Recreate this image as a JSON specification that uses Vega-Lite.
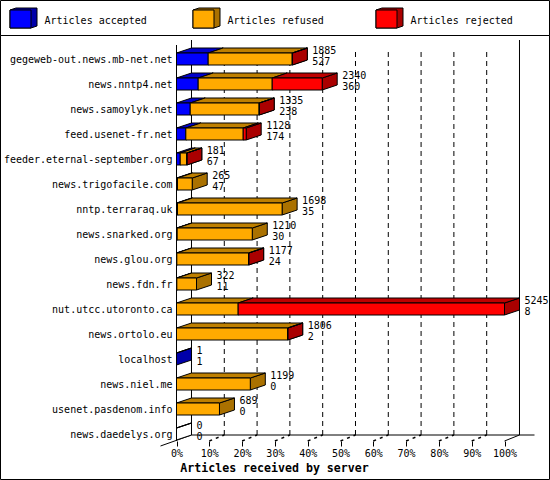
{
  "$schema": "https://vega.github.io/schema/vega-lite/v6.json",
  "padding": {"left": -1, "top": -1, "right": 0, "bottom": 0},
  "background": "white",
  "spacing": 0,
  "bounds": "flush",
  "config": {
    "font": "DejaVu Sans Mono",
    "view": {"stroke": "black", "strokeWidth": 1}
  },
  "datasets": {
    "statuses": [
      {"status": "accepted", "label": "Articles accepted"},
      {"status": "refused", "label": "Articles refused"},
      {"status": "rejected", "label": "Articles rejected"}
    ],
    "segments": [
      {"server": "gegeweb-out.news.mb-net.net", "status": "accepted", "pos": [0, 9.66, 14.23, 4.57, 0], "depth": [0, 0, 1, 1, 0]},
      {"server": "gegeweb-out.news.mb-net.net", "status": "refused", "pos": [9.66, 35.3, 39.87, 14.23, 9.66], "depth": [0, 0, 1, 1, 0]},
      {"server": "gegeweb-out.news.mb-net.net", "status": "rejected", "pos": [35.3, 35.3, 39.87, 39.87, 35.3], "depth": [0, 0, 1, 1, 0]},
      {"server": "news.nntp4.net", "status": "accepted", "pos": [0, 6.61, 11.18, 4.57, 0], "depth": [0, 0, 1, 1, 0]},
      {"server": "news.nntp4.net", "status": "refused", "pos": [6.61, 29.18, 33.75, 11.18, 6.61], "depth": [0, 0, 1, 1, 0]},
      {"server": "news.nntp4.net", "status": "rejected", "pos": [29.18, 44.42, 48.99, 33.75, 29.18], "depth": [0, 0, 1, 1, 0]},
      {"server": "news.samoylyk.net", "status": "accepted", "pos": [0, 4.18, 8.75, 4.57, 0], "depth": [0, 0, 1, 1, 0]},
      {"server": "news.samoylyk.net", "status": "refused", "pos": [4.18, 25.21, 29.78, 8.75, 4.18], "depth": [0, 0, 1, 1, 0]},
      {"server": "news.samoylyk.net", "status": "rejected", "pos": [25.21, 25.21, 29.78, 29.78, 25.21], "depth": [0, 0, 1, 1, 0]},
      {"server": "feed.usenet-fr.net", "status": "accepted", "pos": [0, 2.84, 7.41, 4.57, 0], "depth": [0, 0, 1, 1, 0]},
      {"server": "feed.usenet-fr.net", "status": "refused", "pos": [2.84, 20.34, 24.91, 7.41, 2.84], "depth": [0, 0, 1, 1, 0]},
      {"server": "feed.usenet-fr.net", "status": "rejected", "pos": [20.34, 21.25, 25.82, 24.91, 20.34], "depth": [0, 0, 1, 1, 0]},
      {"server": "feeder.eternal-september.org", "status": "accepted", "pos": [0, 1.13, 5.7, 4.57, 0], "depth": [0, 0, 1, 1, 0]},
      {"server": "feeder.eternal-september.org", "status": "refused", "pos": [1.13, 3.14, 7.71, 5.7, 1.13], "depth": [0, 0, 1, 1, 0]},
      {"server": "feeder.eternal-september.org", "status": "rejected", "pos": [3.14, 3.14, 7.71, 7.71, 3.14], "depth": [0, 0, 1, 1, 0]},
      {"server": "news.trigofacile.com", "status": "accepted", "pos": [0, 0.3, 4.87, 4.57, 0], "depth": [0, 0, 1, 1, 0]},
      {"server": "news.trigofacile.com", "status": "refused", "pos": [0.3, 4.79, 9.36, 4.87, 0.3], "depth": [0, 0, 1, 1, 0]},
      {"server": "nntp.terraraq.uk", "status": "accepted", "pos": [0, 0.3, 4.87, 4.57, 0], "depth": [0, 0, 1, 1, 0]},
      {"server": "nntp.terraraq.uk", "status": "refused", "pos": [0.3, 32.2, 36.77, 4.87, 0.3], "depth": [0, 0, 1, 1, 0]},
      {"server": "news.snarked.org", "status": "accepted", "pos": [0, 0.2, 4.77, 4.57, 0], "depth": [0, 0, 1, 1, 0]},
      {"server": "news.snarked.org", "status": "refused", "pos": [0.2, 23.1, 27.67, 4.77, 0.2], "depth": [0, 0, 1, 1, 0]},
      {"server": "news.glou.org", "status": "accepted", "pos": [0, 0.1, 4.67, 4.57, 0], "depth": [0, 0, 1, 1, 0]},
      {"server": "news.glou.org", "status": "refused", "pos": [0.1, 22, 26.57, 4.67, 0.1], "depth": [0, 0, 1, 1, 0]},
      {"server": "news.glou.org", "status": "rejected", "pos": [22, 22, 26.57, 26.57, 22], "depth": [0, 0, 1, 1, 0]},
      {"server": "news.fdn.fr", "status": "accepted", "pos": [0, 0.1, 4.67, 4.57, 0], "depth": [0, 0, 1, 1, 0]},
      {"server": "news.fdn.fr", "status": "refused", "pos": [0.1, 6.1, 10.67, 4.67, 0.1], "depth": [0, 0, 1, 1, 0]},
      {"server": "nut.utcc.utoronto.ca", "status": "refused", "pos": [0, 18.8, 23.37, 4.57, 0], "depth": [0, 0, 1, 1, 0]},
      {"server": "nut.utcc.utoronto.ca", "status": "rejected", "pos": [18.8, 100, 104.57, 23.37, 18.8], "depth": [0, 0, 1, 1, 0]},
      {"server": "news.ortolo.eu", "status": "refused", "pos": [0, 33.9, 38.47, 4.57, 0], "depth": [0, 0, 1, 1, 0]},
      {"server": "news.ortolo.eu", "status": "rejected", "pos": [33.9, 33.9, 38.47, 38.47, 33.9], "depth": [0, 0, 1, 1, 0]},
      {"server": "localhost", "status": "accepted", "pos": [0, 0, 4.57, 4.57, 0], "depth": [0, 0, 1, 1, 0]},
      {"server": "news.niel.me", "status": "refused", "pos": [0, 22.5, 27.07, 4.57, 0], "depth": [0, 0, 1, 1, 0]},
      {"server": "usenet.pasdenom.info", "status": "refused", "pos": [0, 13.1, 17.67, 4.57, 0], "depth": [0, 0, 1, 1, 0]},
      {"server": "news.daedelys.org", "status": "none", "pos": [0, 0, 4.57, 4.57, 0], "depth": [0, 0, 1, 1, 0]}
    ],
    "totals": [
      {"server": "gegeweb-out.news.mb-net.net", "received": 1885, "second": 527, "end": 35.3},
      {"server": "news.nntp4.net", "received": 2340, "second": 360, "end": 44.42},
      {"server": "news.samoylyk.net", "received": 1335, "second": 238, "end": 25.21},
      {"server": "feed.usenet-fr.net", "received": 1128, "second": 174, "end": 21.25},
      {"server": "feeder.eternal-september.org", "received": 181, "second": 67, "end": 3.14},
      {"server": "news.trigofacile.com", "received": 265, "second": 47, "end": 4.79},
      {"server": "nntp.terraraq.uk", "received": 1698, "second": 35, "end": 32.2},
      {"server": "news.snarked.org", "received": 1210, "second": 30, "end": 23.1},
      {"server": "news.glou.org", "received": 1177, "second": 24, "end": 22},
      {"server": "news.fdn.fr", "received": 322, "second": 11, "end": 6.1},
      {"server": "nut.utcc.utoronto.ca", "received": 5245, "second": 8, "end": 100},
      {"server": "news.ortolo.eu", "received": 1806, "second": 2, "end": 33.9},
      {"server": "localhost", "received": 1, "second": 1, "end": 0},
      {"server": "news.niel.me", "received": 1199, "second": 0, "end": 22.5},
      {"server": "usenet.pasdenom.info", "received": 689, "second": 0, "end": 13.1},
      {"server": "news.daedelys.org", "received": 0, "second": 0, "end": 0}
    ],
    "solid": [
      {"x": 0, "x2": 0, "y": 0, "y2": 15.84},
      {"x": 4.57, "x2": 4.57, "y": 0.24, "y2": 16.04},
      {"x": 104.57, "x2": 104.57, "y": 0.24, "y2": 16.04},
      {"x": 4.57, "x2": 109.15, "y": 0.24, "y2": 0.24},
      {"x": -4.88, "x2": 4.57, "y": -0.2, "y2": 0.24},
      {"x": 100, "x2": 104.57, "y": 0, "y2": 0.24}
    ],
    "grid": [
      {"x": 14.57, "y": 0.24, "y2": 15.64},
      {"x": 24.57, "y": 0.24, "y2": 15.64},
      {"x": 34.57, "y": 0.24, "y2": 15.64},
      {"x": 44.57, "y": 0.24, "y2": 15.64},
      {"x": 54.57, "y": 0.24, "y2": 15.64},
      {"x": 64.57, "y": 0.24, "y2": 15.64},
      {"x": 74.57, "y": 0.24, "y2": 15.64},
      {"x": 84.57, "y": 0.24, "y2": 15.64},
      {"x": 94.57, "y": 0.24, "y2": 15.64}
    ],
    "floor": [
      {"x": 10, "x2": 14.57, "y": 0, "y2": 0.24},
      {"x": 20, "x2": 24.57, "y": 0, "y2": 0.24},
      {"x": 30, "x2": 34.57, "y": 0, "y2": 0.24},
      {"x": 40, "x2": 44.57, "y": 0, "y2": 0.24},
      {"x": 50, "x2": 54.57, "y": 0, "y2": 0.24},
      {"x": 60, "x2": 64.57, "y": 0, "y2": 0.24},
      {"x": 70, "x2": 74.57, "y": 0, "y2": 0.24},
      {"x": 80, "x2": 84.57, "y": 0, "y2": 0.24},
      {"x": 90, "x2": 94.57, "y": 0, "y2": 0.24}
    ]
  },
  "vconcat": [
    {
      "width": 549,
      "height": 35,
      "data": {"name": "statuses"},
      "encoding": {
        "x": {"field": "status", "type": "nominal", "axis": null, "scale": {"paddingInner": 0, "paddingOuter": 0}}
      },
      "layer": [
        {
          "mark": {"type": "point", "shape": "M-10.5,-9L-4.5,-11H16.5V7L10.5,9H-10.5Z", "size": 4, "filled": true, "stroke": "black", "strokeWidth": 1, "opacity": 1, "xOffset": -71, "yOffset": 1.5},
          "encoding": {
            "fill": {"field": "status", "type": "nominal", "legend": null, "scale": {"range": ["#0000AA", "#AA7100", "#AA0000"]}}
          }
        },
        {
          "mark": {"type": "point", "shape": "M-10.5,-9H10.5V9H-10.5Z", "size": 4, "filled": true, "stroke": "black", "strokeWidth": 1, "opacity": 1, "xOffset": -71, "yOffset": 1.5},
          "encoding": {
            "fill": {"field": "status", "type": "nominal", "legend": null, "scale": {"range": ["#0000FF", "#FFAA00", "#FF0000"]}}
          }
        },
        {
          "mark": {"type": "text", "align": "left", "baseline": "middle", "fontSize": 10, "xOffset": -47, "yOffset": 3.5, "color": "black"},
          "encoding": {"text": {"field": "label"}}
        }
      ],
      "resolve": {"scale": {"fill": "independent"}}
    },
    {
      "width": 549,
      "height": 444,
      "layer": [
        {
          "data": {"name": "grid"},
          "mark": {"type": "rule", "color": "black", "strokeWidth": 1, "strokeDash": [5, 4]},
          "encoding": {
            "x": {"field": "x", "type": "quantitative", "scale": {"domain": [0, 100], "range": [176.5, 504.5]}, "axis": {"values": [0, 10, 20, 30, 40, 50, 60, 70, 80, 90, 100], "labelExpr": "datum.value + '%'", "labelFlush": false, "labelOverlap": false, "grid": false, "domain": false, "offset": -38, "tickSize": 5, "tickColor": "black", "labelColor": "black", "labelFontSize": 10, "labelPadding": 2, "title": "Articles received by server", "titleFontSize": 11.6, "titleFontWeight": "bold", "titleColor": "black", "titlePadding": 4, "titleX": 274}},
            "y": {"field": "y", "type": "quantitative", "scale": {"domain": [0, 16], "range": [406, 6]}, "axis": null},
            "y2": {"field": "y2"}
          }
        },
        {
          "data": {"name": "floor"},
          "mark": {"type": "rule", "color": "black", "strokeWidth": 1.5, "strokeDash": [3, 4]},
          "encoding": {
            "x": {"field": "x", "type": "quantitative"},
            "x2": {"field": "x2"},
            "y": {"field": "y", "type": "quantitative", "scale": {"domain": [0, 16], "range": [406, 6]}, "axis": null},
            "y2": {"field": "y2"}
          }
        },
        {
          "data": {"name": "solid"},
          "mark": {"type": "rule", "color": "black", "strokeWidth": 1},
          "encoding": {
            "x": {"field": "x", "type": "quantitative"},
            "x2": {"field": "x2"},
            "y": {"field": "y", "type": "quantitative", "scale": {"domain": [0, 16], "range": [406, 6]}, "axis": null},
            "y2": {"field": "y2"}
          }
        },
        {
          "data": {"name": "segments"},
          "mark": {"type": "point", "shape": "M0,-6L15,-11V1L0,6Z", "size": 4, "filled": true, "stroke": "black", "strokeWidth": 1, "opacity": 1},
          "encoding": {
            "x": {"field": "pos[1]", "type": "quantitative"},
            "y": {"field": "server", "type": "nominal", "sort": null, "scale": {"range": [11.5, 411.5], "paddingInner": 0, "paddingOuter": 0}, "axis": {"title": null, "domain": false, "ticks": false, "grid": false, "offset": -177, "labelColor": "black", "labelFontSize": 10, "labelPadding": 5, "labelLimit": 0}},
            "fill": {"field": "status", "type": "nominal", "legend": null, "scale": {"domain": ["accepted", "refused", "rejected", "none"], "range": ["#0000AA", "#AA7100", "#AA0000", "#FFFFFF"]}}
          }
        },
        {
          "data": {"name": "segments"},
          "transform": [{"flatten": ["pos", "depth"]}],
          "mark": {"type": "line", "filled": true, "stroke": "black", "strokeWidth": 1, "opacity": 1},
          "encoding": {
            "x": {"field": "pos", "type": "quantitative"},
            "y": {"field": "server", "type": "nominal", "sort": null, "scale": {"range": [11.5, 411.5], "paddingInner": 0, "paddingOuter": 0}, "axis": null},
            "yOffset": {"field": "depth", "type": "quantitative", "scale": {"domain": [0, 1], "range": [6.5, 1.5]}},
            "detail": [{"field": "server"}, {"field": "status"}],
            "order": {"value": null},
            "fill": {"field": "status", "type": "nominal", "legend": null, "scale": {"domain": ["accepted", "refused", "rejected", "none"], "range": ["#0000CC", "#BF8000", "#BF0000", "#FFFFFF"]}}
          }
        },
        {
          "data": {"name": "segments"},
          "mark": {"type": "bar", "size": 12, "stroke": "black", "strokeWidth": 1, "opacity": 1, "orient": "horizontal"},
          "encoding": {
            "x": {"field": "pos[0]", "type": "quantitative"},
            "x2": {"field": "pos[1]"},
            "y": {"field": "server", "type": "nominal", "sort": null, "scale": {"range": [11.5, 411.5], "paddingInner": 0, "paddingOuter": 0}, "axis": null},
            "fill": {"field": "status", "type": "nominal", "legend": null, "scale": {"domain": ["accepted", "refused", "rejected", "none"], "range": ["#0000FF", "#FFAA00", "#FF0000", "#FFFFFF"]}}
          }
        },
        {
          "data": {"name": "totals"},
          "mark": {"type": "text", "align": "left", "baseline": "middle", "fontSize": 10, "xOffset": 20, "yOffset": -8, "color": "black"},
          "encoding": {
            "x": {"field": "end", "type": "quantitative"},
            "y": {"field": "server", "type": "nominal", "sort": null, "scale": {"range": [11.5, 411.5], "paddingInner": 0, "paddingOuter": 0}, "axis": null},
            "text": {"field": "received"}
          }
        },
        {
          "data": {"name": "totals"},
          "mark": {"type": "text", "align": "left", "baseline": "middle", "fontSize": 10, "xOffset": 20, "yOffset": 3, "color": "black"},
          "encoding": {
            "x": {"field": "end", "type": "quantitative"},
            "y": {"field": "server", "type": "nominal", "sort": null, "scale": {"range": [11.5, 411.5], "paddingInner": 0, "paddingOuter": 0}, "axis": null},
            "text": {"field": "second"}
          }
        }
      ],
      "resolve": {"scale": {"y": "independent", "fill": "independent"}}
    }
  ]
}
